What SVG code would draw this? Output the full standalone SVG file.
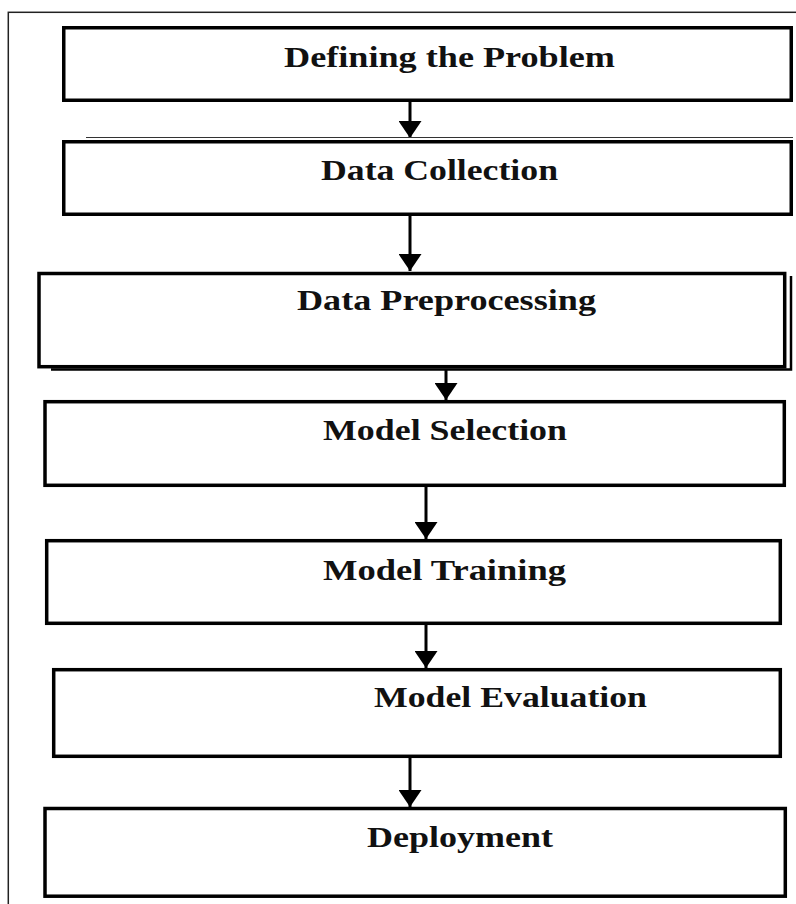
<svg xmlns="http://www.w3.org/2000/svg" width="796" height="904" viewBox="0 0 796 904">
  <style>
    .frame { fill: none; stroke: #222; stroke-width: 1.5; }
    .box { fill: #fff; stroke: #000; stroke-width: 3.5; }
    .edge { fill: none; stroke: #000; stroke-width: 2.5; }
    .thin { fill: none; stroke: #333; stroke-width: 1.2; }
    .label { font-family: "Liberation Serif", "Times New Roman", serif; font-weight: bold; font-size: 30px; fill: #111; }
    .link { stroke: #000; stroke-width: 3; fill: none; marker-end: url(#head); }
  </style>
  <defs>
    <marker id="head" viewBox="0 0 17 23" refX="17" refY="11.5" markerWidth="17" markerHeight="23" markerUnits="userSpaceOnUse" orient="auto">
      <path d="M0,0 L17,11.5 L0,23 Z" fill="#000"/>
    </marker>
  </defs>

  <rect width="796" height="904" fill="#fff"/>

  <!-- surrounding frame, running past the right and bottom edges -->
  <rect class="frame" x="8.3" y="12.3" width="800" height="900"/>

  <g id="connectors">
    <line class="link" x1="410" y1="102" x2="410" y2="138"/>
    <line class="link" x1="410" y1="216" x2="410" y2="271"/>
    <line class="link" x1="446" y1="370" x2="446" y2="400"/>
    <line class="link" x1="426" y1="487" x2="426" y2="539"/>
    <line class="link" x1="426" y1="625" x2="426" y2="668"/>
    <line class="link" x1="410" y1="758" x2="410" y2="807"/>
  </g>

  <g id="defining-problem">
    <rect class="box" x="63.75" y="27.75" width="727.5" height="72.5"/>
    <text class="label" x="284" y="67" textLength="331" lengthAdjust="spacingAndGlyphs">Defining the Problem</text>
  </g>

  <g id="data-collection">
    <line class="thin" x1="86" y1="137.5" x2="793" y2="137.5"/>
    <rect class="box" x="63.75" y="141.75" width="727.5" height="72.5"/>
    <text class="label" x="321" y="180" textLength="237" lengthAdjust="spacingAndGlyphs">Data Collection</text>
  </g>

  <g id="data-preprocessing">
    <path class="edge" d="M51,369.5 H791 V276"/>
    <rect class="box" x="39" y="273.5" width="745.7" height="93.2"/>
    <text class="label" x="297" y="310" textLength="299" lengthAdjust="spacingAndGlyphs">Data Preprocessing</text>
  </g>

  <g id="model-selection">
    <rect class="box" x="45" y="401.7" width="739.3" height="83.6"/>
    <text class="label" x="323" y="440" textLength="244" lengthAdjust="spacingAndGlyphs">Model Selection</text>
  </g>

  <g id="model-training">
    <rect class="box" x="46.7" y="540.7" width="733.6" height="82.6"/>
    <text class="label" x="323" y="580" textLength="243" lengthAdjust="spacingAndGlyphs">Model Training</text>
  </g>

  <g id="model-evaluation">
    <rect class="box" x="53.7" y="669.7" width="726.6" height="86.6"/>
    <text class="label" x="374" y="707" textLength="273" lengthAdjust="spacingAndGlyphs">Model Evaluation</text>
  </g>

  <g id="deployment">
    <rect class="box" x="45" y="808.5" width="740.3" height="87.7"/>
    <text class="label" x="367" y="847" textLength="186" lengthAdjust="spacingAndGlyphs">Deployment</text>
  </g>
</svg>
